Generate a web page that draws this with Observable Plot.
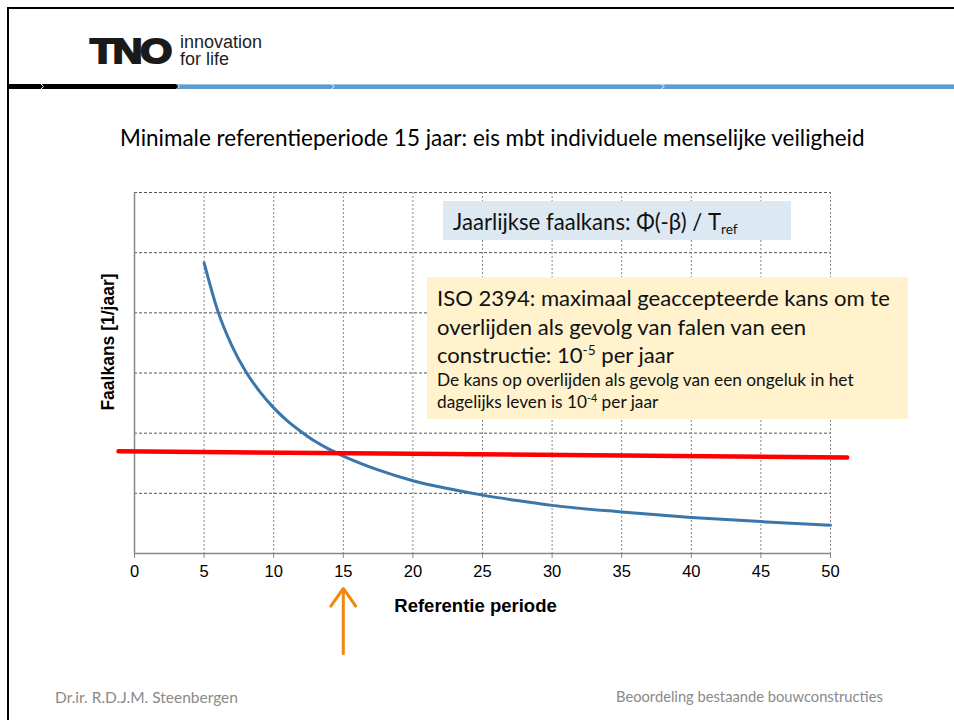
<!DOCTYPE html>
<html><head><meta charset="utf-8">
<script src="https://cdn.jsdelivr.net/npm/d3@7"></script>
<script src="https://cdn.jsdelivr.net/npm/@observablehq/plot@0.6"></script>
<style>
html,body{margin:0;padding:0;background:#fff;}
#page{position:relative;width:954px;height:720px;overflow:hidden;background:#fff;}
#page > svg{position:absolute;left:0;top:0;}
.t{position:absolute;white-space:nowrap;line-height:1.2;}
.sup{font-size:0.62em;position:relative;top:-0.55em;}
.sub{font-size:0.62em;position:relative;top:0.3em;}
.box{position:absolute;}
</style></head><body><div id="page"></div>
<script>
// ---- data ----
const periods  = [5, 6, 7, 8, 9, 10, 11, 12, 13, 14, 15, 17.5, 20, 22.5, 25, 27.5, 30, 35, 40, 45, 50];
const faalkans = [4.83, 4.02, 3.45, 3.02, 2.69, 2.42, 2.20, 2.02, 1.86, 1.73, 1.62, 1.39, 1.21, 1.08, 0.97, 0.88, 0.80, 0.69, 0.60, 0.53, 0.47];
const normPeriods = [-1.15, 51.2];
const normKans    = [1.70, 1.595];
const xTicks = [0, 5, 10, 15, 20, 25, 30, 35, 40, 45, 50];
const yGrid  = [0, 1, 2, 3, 4, 5, 6];
const chosenPeriod = 15;
const arrowSpan = [-1.66, -0.58];

const titleText = "Minimale referentieperiode 15 jaar: eis mbt individuele menselijke veiligheid";
const xLabel = "Referentie periode";
const yLabel = "Faalkans [1/jaar]";
const footerLeft = "Dr.ir. R.D.J.M. Steenbergen";
const footerRight = "Beoordeling bestaande bouwconstructies";

const page = document.getElementById("page");
const calibri = "Lato, 'Open Sans', 'Noto Sans', sans-serif";

// ---- chart ----
const curve = periods.map((p, i) => ({p, k: faalkans[i]}));
const norm = normPeriods.map((p, i) => ({p, k: normKans[i]}));

const chart = Plot.plot({
  width: 954, height: 720,
  marginLeft: 134, marginRight: 124, marginTop: 192, marginBottom: 167,
  x: {domain: [0, 50]},
  y: {domain: [0, 6]},
  style: {fontFamily: "'Liberation Sans', Arial, sans-serif", fontSize: "16.5px", color: "#000", background: "transparent"},
  marks: [
    Plot.gridY(yGrid.filter(d => d > 0), {stroke: "#555", strokeOpacity: 1, strokeDasharray: "3,2"}),
    Plot.gridX(xTicks.filter(d => d > 0), {stroke: "#888", strokeOpacity: 1, strokeDasharray: "2,2"}),
    Plot.ruleX([0], {stroke: "#888", strokeWidth: 1.5}),
    Plot.ruleY([0], {stroke: "#888", strokeWidth: 1.5}),
    Plot.axisX(xTicks, {tickSize: 5, tickPadding: 7, stroke: "#888", fill: "#000", fontSize: 16.5, label: null}),
    Plot.axisY([], {label: null}),
    Plot.text([xLabel], {frameAnchor: "bottom", textAnchor: "middle", lineAnchor: "middle", dx: -7, dy: 53, fontWeight: "bold", fontSize: 18.5, fill: "#000"}),
    Plot.text([yLabel], {frameAnchor: "left", textAnchor: "middle", lineAnchor: "middle", rotate: -90, dx: -26, dy: -31, fontWeight: "bold", fontSize: 17.5, fill: "#000"}),
    Plot.line(curve, {x: "p", y: "k", stroke: "#3a76aa", strokeWidth: 3, curve: "monotone-x"}),
    Plot.line(norm, {x: "p", y: "k", stroke: "#ff0000", strokeWidth: 4.5}),
    Plot.arrow([{p: chosenPeriod, a: arrowSpan[0], b: arrowSpan[1]}], {
      x1: "p", x2: "p", y1: "a", y2: "b", stroke: "#f0870f", strokeWidth: 3, headLength: 14, headAngle: 70
    })
  ]
});
page.appendChild(chart);

// ---- page decoration (frame and header bar) ----
const ns = "http://www.w3.org/2000/svg";
const deco = document.createElementNS(ns, "svg");
deco.setAttribute("width", 954); deco.setAttribute("height", 720);
deco.style.position = "absolute"; deco.style.left = "0"; deco.style.top = "0"; deco.style.pointerEvents = "none";
deco.innerHTML = `
  <line x1="8" y1="8" x2="954" y2="8" stroke="#000" stroke-width="2"/>
  <line x1="8" y1="7" x2="8" y2="720" stroke="#000" stroke-width="2"/>
  <rect x="8" y="84" width="170" height="5" fill="#000"/>
  <rect x="178" y="84" width="776" height="5" fill="#5e9bcf"/>
  <line x1="178" y1="84.5" x2="954" y2="84.5" stroke="#9cc3e4" stroke-width="1"/>
  <polyline points="41,84 43.5,86.5 41,89" fill="none" stroke="#fff" stroke-width="1"/>
  <polyline points="176.5,84 179,86.5 176.5,89" fill="none" stroke="#fff" stroke-width="1"/>
  <polyline points="331.5,84 334,86.5 331.5,89" fill="none" stroke="#fff" stroke-width="1"/>
  <polyline points="661.5,84 664,86.5 661.5,89" fill="none" stroke="#fff" stroke-width="1"/>
`;
page.appendChild(deco);

// ---- boxes ----
function box(x0, y0, x1, y1, fill) {
  const b = document.createElement("div");
  b.className = "box";
  Object.assign(b.style, {left: x0 + "px", top: y0 + "px", width: (x1 - x0) + "px", height: (y1 - y0) + "px", background: fill});
  page.appendChild(b);
}
box(443, 201, 791, 240, "#dce9f3");
box(427, 277, 908, 419, "#fff2cc");

// ---- text helper ----
function addText(html, o) {
  const el = document.createElement("div");
  el.className = "t";
  el.innerHTML = html;
  el.style.fontFamily = o.font;
  el.style.fontSize = o.size + "px";
  el.style.color = o.color || "#000";
  el.style.fontWeight = o.weight || "normal";
  el.style.left = o.x0 + "px";
  el.style.top = "0px";
  if (o.extra) Object.assign(el.style, o.extra);
  page.appendChild(el);
  let size = o.size;
  if (o.x1 != null) {
    const w = el.getBoundingClientRect().width;
    if (o.stretch) {
      el.style.transformOrigin = "left center";
      el.style.transform = `scaleX(${(o.x1 - o.x0) / el.offsetWidth})`;
    } else {
      size = size * (o.x1 - o.x0) / w;
      el.style.fontSize = size + "px";
    }
  }
  const h = el.getBoundingClientRect().height;
  el.style.top = (o.cy - h / 2) + "px";
  return size;
}

// title
addText(titleText, {x0: 120, x1: 865, cy: 138, font: calibri, size: 20, color: "#000"});

// blue box text
addText(`Jaarlijkse faalkans: Φ(-β) / T<span class="sub">ref</span>`, {x0: 453, x1: 738, cy: 222, font: calibri, size: 20, color: "#111"});

// yellow box text
const bigLines = [
  ["ISO 2394: maximaal geaccepteerde kans om te", 298],
  ["overlijden als gevolg van falen van een", 327],
  [`constructie: 10<span class="sup">-5</span> per jaar`, 355]
];
const bigSize = addText(bigLines[0][0], {x0: 437, x1: 890, cy: bigLines[0][1], font: calibri, size: 22, color: "#111"});
bigLines.slice(1).forEach(([s, cy]) => addText(s, {x0: 437, cy, font: calibri, size: bigSize, color: "#111"}));
const smallLines = [
  ["De kans op overlijden als gevolg van een ongeluk in het", 380],
  [`dagelijks leven is 10<span class="sup">-4</span> per jaar`, 402]
];
const smallSize = addText(smallLines[0][0], {x0: 437, x1: 854, cy: smallLines[0][1], font: calibri, size: 15, color: "#111"});
addText(smallLines[1][0], {x0: 437, cy: smallLines[1][1], font: calibri, size: smallSize, color: "#111"});

// footer
addText(footerLeft, {x0: 55, x1: 238, cy: 697, font: calibri, size: 13, color: "#8a8a8a"});
addText(footerRight, {x0: 616, x1: 883, cy: 697, font: calibri, size: 13, color: "#8a8a8a"});

// logo
addText("TNO", {x0: 90, x1: 170, cy: 50, font: "'Liberation Sans', Arial, sans-serif", size: 35, weight: "bold", color: "#1a1a1a",
  stretch: true, extra: {letterSpacing: "-2px", webkitTextStroke: "2px #1a1a1a", lineHeight: "1"}});
addText("innovation<br>for life", {x0: 180, x1: 262, cy: 50.5, font: "'Liberation Sans', Arial, sans-serif", size: 16, color: "#222", extra: {lineHeight: "0.92"}});
</script></body></html>
